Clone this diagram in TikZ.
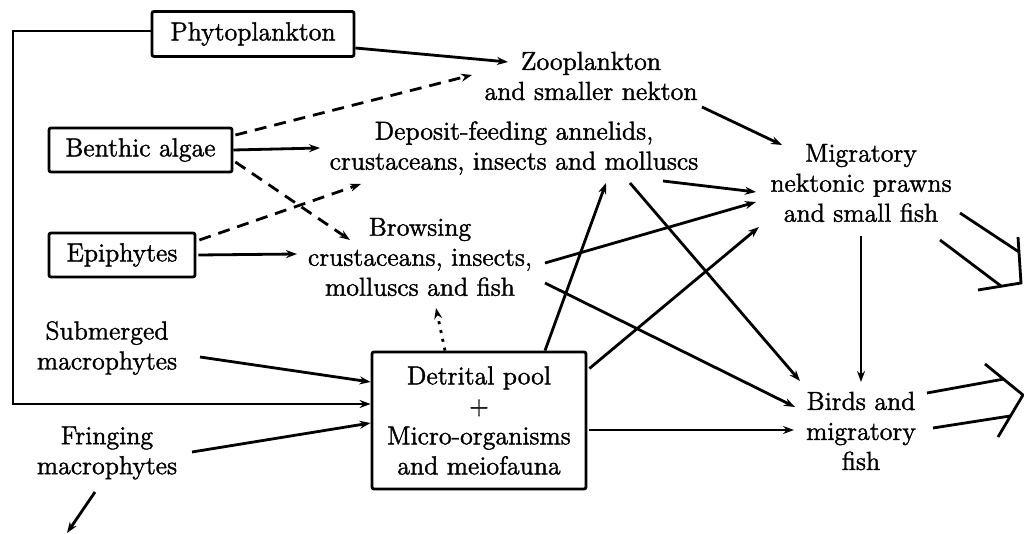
\documentclass[tikz,border=0pt]{standalone}
\usepackage{fontspec}
\setmainfont{Latin Modern Roman}[FakeBold=1.5]
\usetikzlibrary{calc,arrows.meta}
\begin{document}
\begin{tikzpicture}[x=0.5pt,y=-0.5pt, line width=1.4pt,
  arr/.style={-{Stealth[length=5.5pt,width=4pt]}},
  dsh/.style={arr,dash pattern=on 6pt off 4pt},
  dotl/.style={arr,dash pattern=on 1.5pt off 3pt},
  box/.style={draw,rounded corners=1pt,inner sep=0pt,align=center},
  txt/.style={align=center,inner sep=0pt},
  font=\fontsize{13}{15}\selectfont]
\useasboundingbox (0,0) rectangle (1024,534);

% nodes
\node[box,minimum width=101pt,minimum height=22.5pt] (phyto) at (253,34) {Phytoplankton};
\node[txt] (zoo) at (591,76) {Zooplankton\\and smaller nekton};
\node[box,minimum width=91.5pt,minimum height=22pt] (benthic) at (140.5,150) {Benthic algae};
\node[txt] (dep) at (514,148) {Deposit-feeding annelids,\\crustaceans, insects and molluscs};
\node[box,minimum width=73pt,minimum height=22pt] (epi) at (122,255) {Epiphytes};
\node[txt] (brow) at (420,257) {Browsing\\crustaceans, insects,\\molluscs and fish};
\node[txt] (sub) at (107,348) {Submerged\\macrophytes};
\node[txt] (fri) at (107,453) {Fringing\\macrophytes};
\node[box,minimum width=107pt,minimum height=68.5pt] (det) at (479,420.5) {Detrital pool\\+\\Micro-organisms\\and meiofauna};
\node[txt] (mig) at (861,183) {Migratory\\nektonic prawns\\and small fish};
\node[txt] (birds) at (861,431) {Birds and\\migratory\\fish};

% free ends
\coordinate (loopTL) at (13,31);
\coordinate (friOut) at (67,533);
\coordinate (migTip) at (1021,283);
\coordinate (birdTip) at (1023,395);

% connectors
\draw[arr] ($(phyto.west)+(0,-3)$) -- (loopTL) |- ($(det.west)+(0,-16.5)$);
\draw[arr] ($(phyto.east)+(0,14)$) -- ($(zoo)+(-83,-14)$);
\draw[dsh] ($(benthic.east)+(2,-15)$) -- ($(zoo)+(-119,-1)$);
\draw[arr] (benthic.east) -- ($(dep)+(-194,0)$);
\draw[dsh] ($(benthic.east)+(2,12)$) -- ($(brow)+(-70,-17)$);
\draw[dsh] ($(epi.east)+(3,-15)$) -- ($(dep)+(-153,36)$);
\draw[arr] ($(epi.east)+(2,0)$) -- ($(brow)+(-123,-3)$);
\draw[arr] ($(sub)+(93,9)$) -- ($(det.west)+(0,-38.5)$);
\draw[arr] ($(fri)+(85,-1)$) -- ($(det.west)+(0,2.5)$);
\draw[arr] ($(fri)+(-12,39)$) -- (friOut);
\draw[dotl] ($(det.north)+(-34,0)$) -- ($(brow)+(16,51)$);
\draw[arr] ($(det.north)+(66,0)$) -- ($(dep)+(92,35)$);
\draw[arr] ($(det.east)+(2,-52)$) -- ($(mig)+(-102,44)$);
\draw[arr] ($(det.east)+(2,9.5)$) -- ($(birds)+(-67,-1)$);
\draw[arr] ($(dep)+(116,35)$) -- ($(birds)+(-61,-50)$);
\draw[arr] ($(dep)+(149,33)$) -- ($(mig)+(-105,9)$);
\draw[arr] ($(brow)+(125,6)$) -- ($(mig)+(-105,19)$);
\draw[arr] ($(brow)+(125,26)$) -- ($(birds)+(-66,-24)$);
\draw[arr] ($(zoo)+(111,31)$) -- ($(mig)+(-79,-38)$);
\draw[arr] ($(mig)+(0,53)$) -- ($(birds)+(0,-49)$);

% broad hollow arrows leaving the picture
\draw ($(mig)+(99,30)$) -- ($(migTip)+(-2,-31)$);
\draw ($(mig)+(79,57)$) -- ($(migTip)+(-20,3)$);
\draw ($(migTip)+(-3,-46)$) -- (migTip) -- ($(migTip)+(-43,7)$);
\draw ($(birds)+(66,-38)$) -- ($(birdTip)+(-19,-16)$);
\draw ($(birds)+(72,-3)$) -- ($(birdTip)+(-13,21)$);
\draw ($(birdTip)+(-38,-31)$) -- (birdTip) -- ($(birdTip)+(-25,42)$);
\end{tikzpicture}
\end{document}
